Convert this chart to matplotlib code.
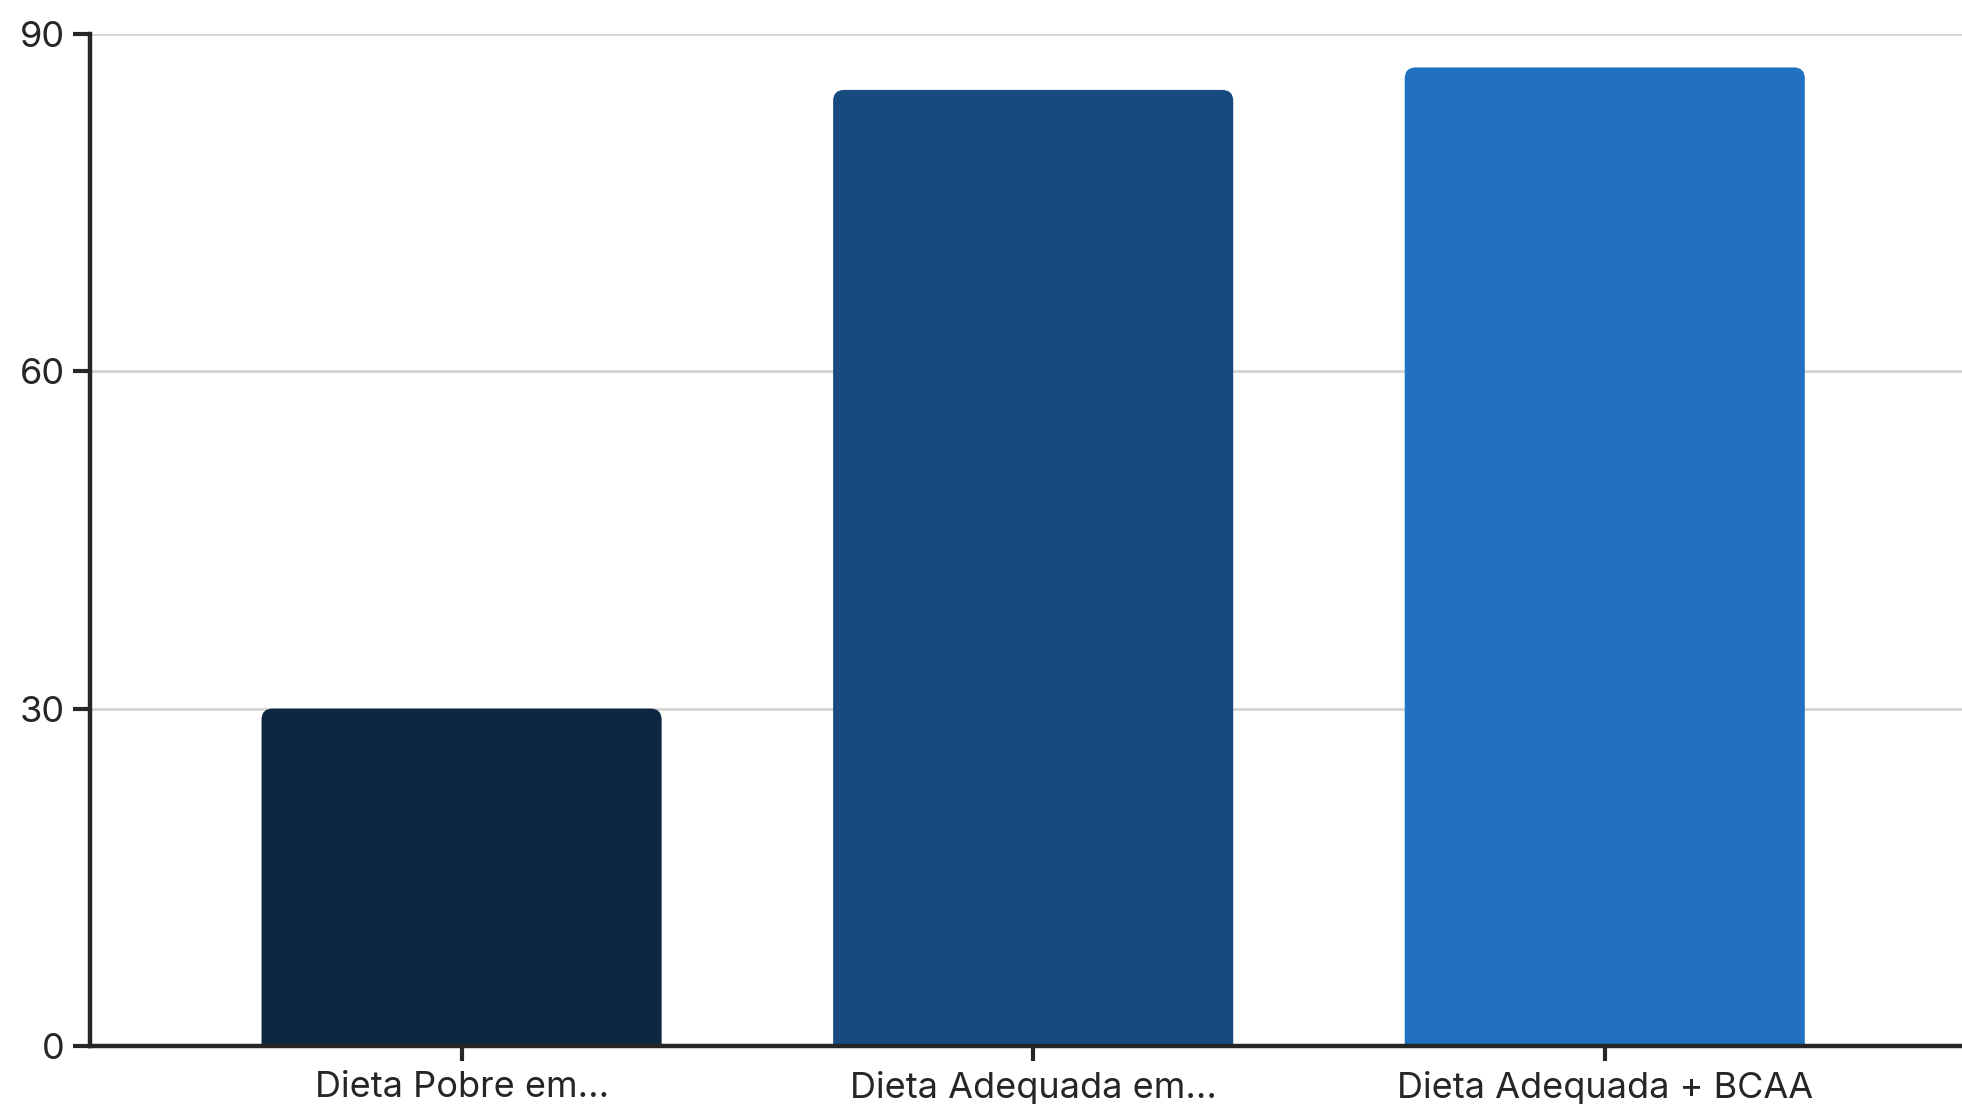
import matplotlib.pyplot as plt
from matplotlib.patches import FancyBboxPatch

# chart data
categories = ["Dieta Pobre em...", "Dieta Adequada em...", "Dieta Adequada + BCAA"]
values = [30, 85, 87]
colors = ["#0d2740", "#174a7e", "#2171c0"]
yticks = [0, 30, 60, 90]

plt.rcParams['font.family'] = ['Inter', 'DejaVu Sans']

fig = plt.figure(figsize=(19.62, 11.04), dpi=100)
ax = fig.add_axes([0.0459, 0.0525, 0.9541, 0.917])

x = list(range(len(categories)))
bars = ax.bar(x, values, width=0.7, color=colors, zorder=2)

ax.set_xlim(-0.65, 2.625)
ax.set_ylim(0, 90)
ax.set_yticks(yticks)
ax.set_xticks(x)
ax.set_xticklabels(categories)

# rounded top corners
fig.canvas.draw()
x_per_px = (ax.get_xlim()[1] - ax.get_xlim()[0]) / ax.bbox.width
y_per_px = (ax.get_ylim()[1] - ax.get_ylim()[0]) / ax.bbox.height
r_px = 11
for b in bars:
    b.set_visible(False)
    bx, bw, bh = b.get_x(), b.get_width(), b.get_height()
    p = FancyBboxPatch((bx, -3), bw, bh + 3,
                       boxstyle=f"round,pad=0,rounding_size={r_px * x_per_px}",
                       mutation_aspect=y_per_px / x_per_px,
                       facecolor=b.get_facecolor(), edgecolor='none', zorder=2)
    ax.add_patch(p)

ax.grid(axis='y', color='#d4d4d4', linewidth=2, zorder=0)
ax.set_axisbelow(True)
for s in ['top', 'right']:
    ax.spines[s].set_visible(False)
for s in ['left', 'bottom']:
    ax.spines[s].set_linewidth(3.2)
    ax.spines[s].set_color('#262626')
    ax.spines[s].set_zorder(3)

ax.tick_params(axis='y', length=12, width=3, color='#262626', labelsize=26,
               labelcolor='#262626', pad=6)
ax.tick_params(axis='x', length=11, width=3, color='#262626', labelsize=26,
               labelcolor='#262626', pad=7)

fig.savefig('out.png', dpi=100, facecolor='white')
